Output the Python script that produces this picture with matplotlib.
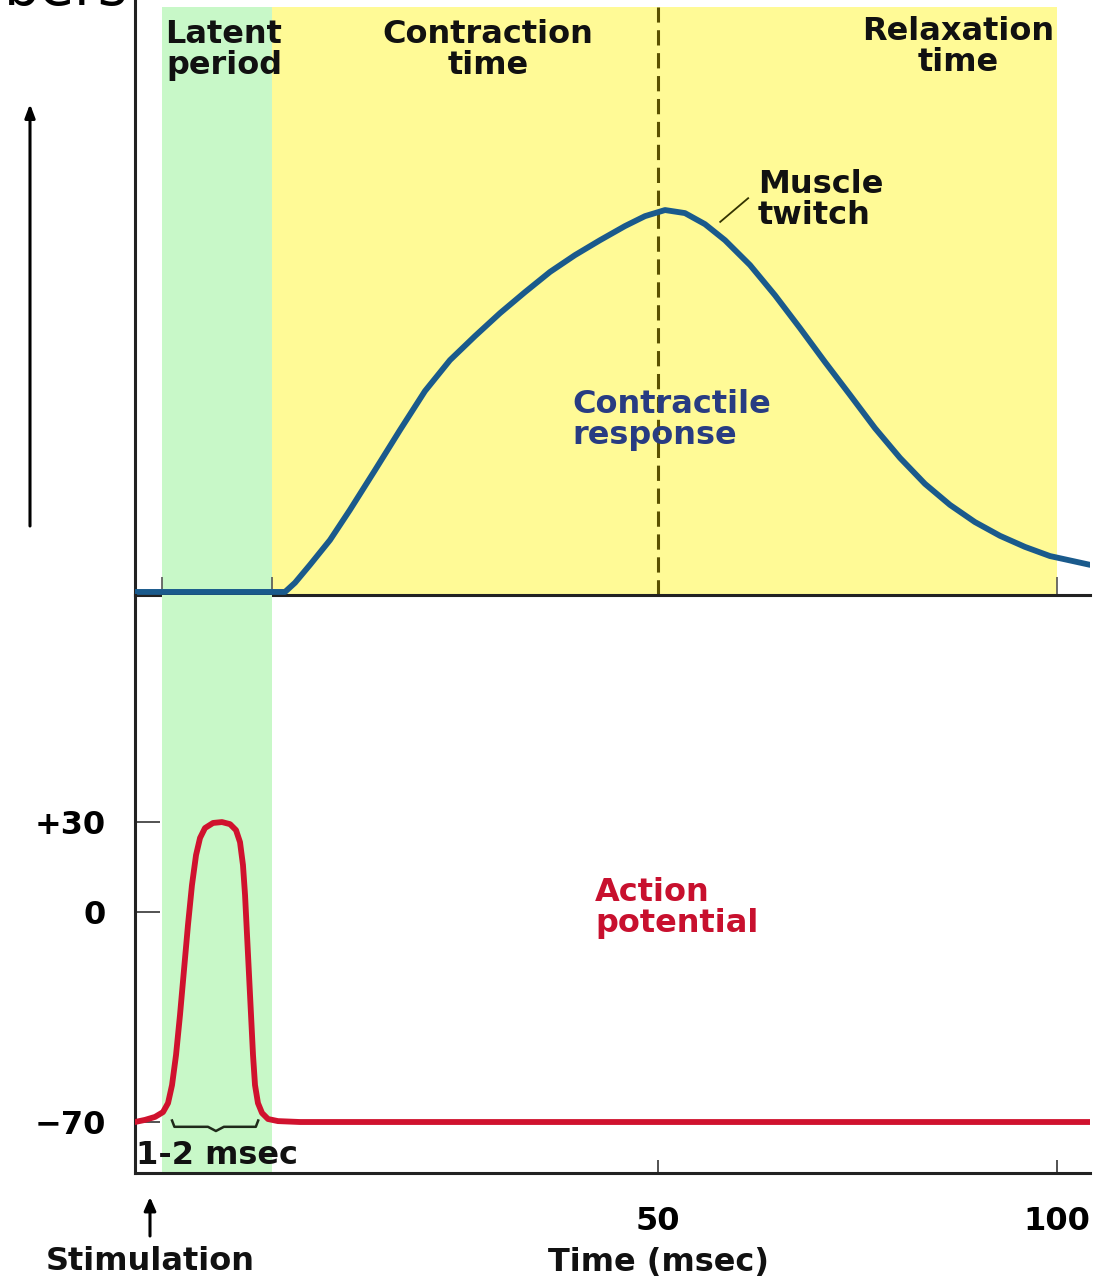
import numpy as np
import matplotlib.pyplot as plt

# ---- data -------------------------------------------------------------
# muscle twitch: time (msec) vs. relative tension (peak = 100)
twitch_t = [-15.54, 3.26, 4.51, 6.39, 8.90, 11.40, 14.54, 17.67, 20.80, 23.93,
            27.07, 30.20, 33.33, 36.47, 39.60, 42.73, 45.86, 48.37, 50.88,
            53.38, 55.89, 58.40, 61.53, 64.66, 67.79, 70.93, 74.06, 77.19,
            80.33, 83.46, 86.59, 89.72, 92.86, 95.99, 99.12, 104.14]
twitch_y = [0.0, 0.0, 2.4, 7.1, 13.6, 21.5, 31.9, 42.4, 52.6, 60.7,
            67.0, 73.0, 78.5, 83.8, 88.2, 92.1, 95.8, 98.4, 100.0,
            99.2, 96.3, 92.1, 85.6, 77.7, 69.1, 60.2, 51.6, 42.9,
            35.1, 28.3, 22.8, 18.3, 14.7, 11.8, 9.4, 7.1]

# action potential: time (msec) vs. membrane potential (mV)
ap_t = [-15.54, -14.29, -13.03, -12.03, -11.40, -10.90, -10.40, -9.90, -9.40,
        -8.90, -8.40, -7.89, -7.39, -6.77, -5.76, -4.64, -3.63, -2.88, -2.38,
        -2.01, -1.75, -1.50, -1.25, -1.00, -0.75, -0.50, -0.13, 0.38, 1.13,
        2.38, 5.14, 104.14]
ap_v = [-70.0, -69.3, -68.3, -66.7, -63.7, -57.7, -47.7, -34.3, -19.3,
        -4.3, 9.0, 19.0, 24.7, 28.0, 29.7, 30.0, 29.3, 27.3, 23.3,
        15.7, 5.7, -7.7, -21.0, -34.3, -47.7, -57.7, -63.7, -67.0, -69.0,
        -69.7, -70.0, -70.0]

latent_span = (-12.1, 1.6)       # msec
yellow_span = (1.6, 100.0)       # msec
peak_time = 50.0
mv_ticks = [30, 0, -70]
mv_labels = ["+30", "0", "\u221270"]
time_ticks = [50, 100]
time_labels = ["50", "100"]

# ---- style ------------------------------------------------------------
W, H = 1099, 1279
FS = 23
BOLD = dict(fontsize=FS, fontweight="bold", family="DejaVu Sans")
LS = 0.97
YELLOW = "#FFFA96"
GREEN = "#C8F8C8"
BLUE = "#1A5A8C"
RED = "#D0122E"
AXC = "#222222"

fig = plt.figure(figsize=(W / 100, H / 100), dpi=100)

def frac_x(px):
    return px / W

def frac_y(py):
    return 1 - py / H

x0, x1 = 135, 1090
xlim = (-15.54, 104.14)

ax_top = fig.add_axes([frac_x(x0), frac_y(595), frac_x(x1 - x0), 595 / H])
ax_bot = fig.add_axes([frac_x(x0), frac_y(1173), frac_x(x1 - x0), (1173 - 595) / H])

for ax in (ax_top, ax_bot):
    ax.set_xlim(*xlim)
    ax.set_facecolor("none")
    for s in ("top", "right"):
        ax.spines[s].set_visible(False)
    for s in ("left", "bottom"):
        ax.spines[s].set_color(AXC)
        ax.spines[s].set_linewidth(2.2)

# top panel: twitch
ax_top.set_ylim(-0.8, 155.0)
band_top = (153.1 + 0.8) / 155.8
ax_top.axvspan(*latent_span, ymin=0, ymax=band_top, color=GREEN, lw=0, zorder=0)
ax_top.axvspan(*yellow_span, ymin=0, ymax=band_top, color=YELLOW, lw=0, zorder=0)
ax_top.plot([peak_time, peak_time], [-0.8, 153.1], color="#5A5000", lw=2.2,
            dashes=(5, 2.5), zorder=1)
ax_top.plot(twitch_t, twitch_y, color=BLUE, lw=4.2, solid_joinstyle="round",
            solid_capstyle="round", zorder=3)
ax_top.set_yticks([])
ax_top.set_xticks([latent_span[0], latent_span[1], 100])
ax_top.tick_params(axis="x", direction="in", length=13, width=1.2, color="#555555",
                   labelbottom=False)
ax_top.plot([57.8, 61.3], [96.9, 103.1], color="#333300", lw=1.3, zorder=4)

# bottom panel: action potential
ax_bot.set_ylim(-87.0, 105.7)
ax_bot.axvspan(*latent_span, color=GREEN, lw=0, zorder=0)
ax_bot.plot(ap_t, ap_v, color=RED, lw=4.2, solid_joinstyle="round", zorder=3)
ax_bot.set_yticks(mv_ticks)
ax_bot.set_yticklabels(mv_labels, **BOLD)
ax_bot.tick_params(axis="y", direction="in", length=18, width=1.3, color="#444444",
                   pad=21)
ax_bot.set_xticks(time_ticks)
ax_bot.set_xticklabels(time_labels, **BOLD)
ax_bot.tick_params(axis="x", direction="in", length=9.5, width=1.3, color="#444444",
                   pad=24)

# "1-2 msec" bracket under the spike
bx = [-10.9, -10.6, -6.4, -5.4, -4.4, -0.4, -0.1]
by = [-69.5, -71.6, -71.6, -73.0, -71.6, -71.6, -69.5]
ax_bot.plot(bx, by, color="#1F2A1A", lw=1.8, zorder=4)
ax_bot.text(-15.4, -81.0, "1-2 msec", ha="left", va="center", color="#111111",
            zorder=5, **BOLD)

# ---- figure-level labels ---------------------------------------------
ov = fig.add_axes([0, 0, 1, 1], zorder=10)
ov.set_xlim(0, W)
ov.set_ylim(H, 0)
ov.axis("off")
ov.patch.set_alpha(0)

ov.text(128, 5, "bers", ha="right", va="baseline", fontsize=41, color="black",
        family="DejaVu Sans")

ov.text(224, 50, "Latent\nperiod", ha="center", va="center", linespacing=LS,
        color="#111111", **BOLD)
ov.text(488, 50, "Contraction\ntime", ha="center", va="center", linespacing=LS,
        color="#111111", **BOLD)
ov.text(958, 47, "Relaxation\ntime", ha="center", va="center", linespacing=LS,
        color="#111111", **BOLD)
ov.text(758, 200, "Muscle\ntwitch", ha="left", va="center", linespacing=LS,
        color="#111111", **BOLD)
ov.text(572, 420, "Contractile\nresponse", ha="left", va="center", linespacing=LS,
        color="#283C82", **BOLD)
ov.text(595, 908, "Action\npotential", ha="left", va="center", linespacing=LS,
        color="#C8102E", **BOLD)

ov.text(658, 1262, "Time (msec)", ha="center", va="center", color="#111111", **BOLD)
ov.text(150, 1262, "Stimulation", ha="center", va="center", color="#111111", **BOLD)

# stimulation arrow
ov.annotate("", xy=(150, 1197), xytext=(150, 1236),
            arrowprops=dict(arrowstyle="-|>,head_length=0.8,head_width=0.35",
                            color="black", lw=2.2, shrinkA=0, shrinkB=0))
# tension axis arrow
ov.annotate("", xy=(30, 104), xytext=(30, 526),
            arrowprops=dict(arrowstyle="-|>,head_length=0.8,head_width=0.3",
                            color="black", lw=2.2, shrinkA=0, shrinkB=0))

fig.savefig("out.png", dpi=100)
